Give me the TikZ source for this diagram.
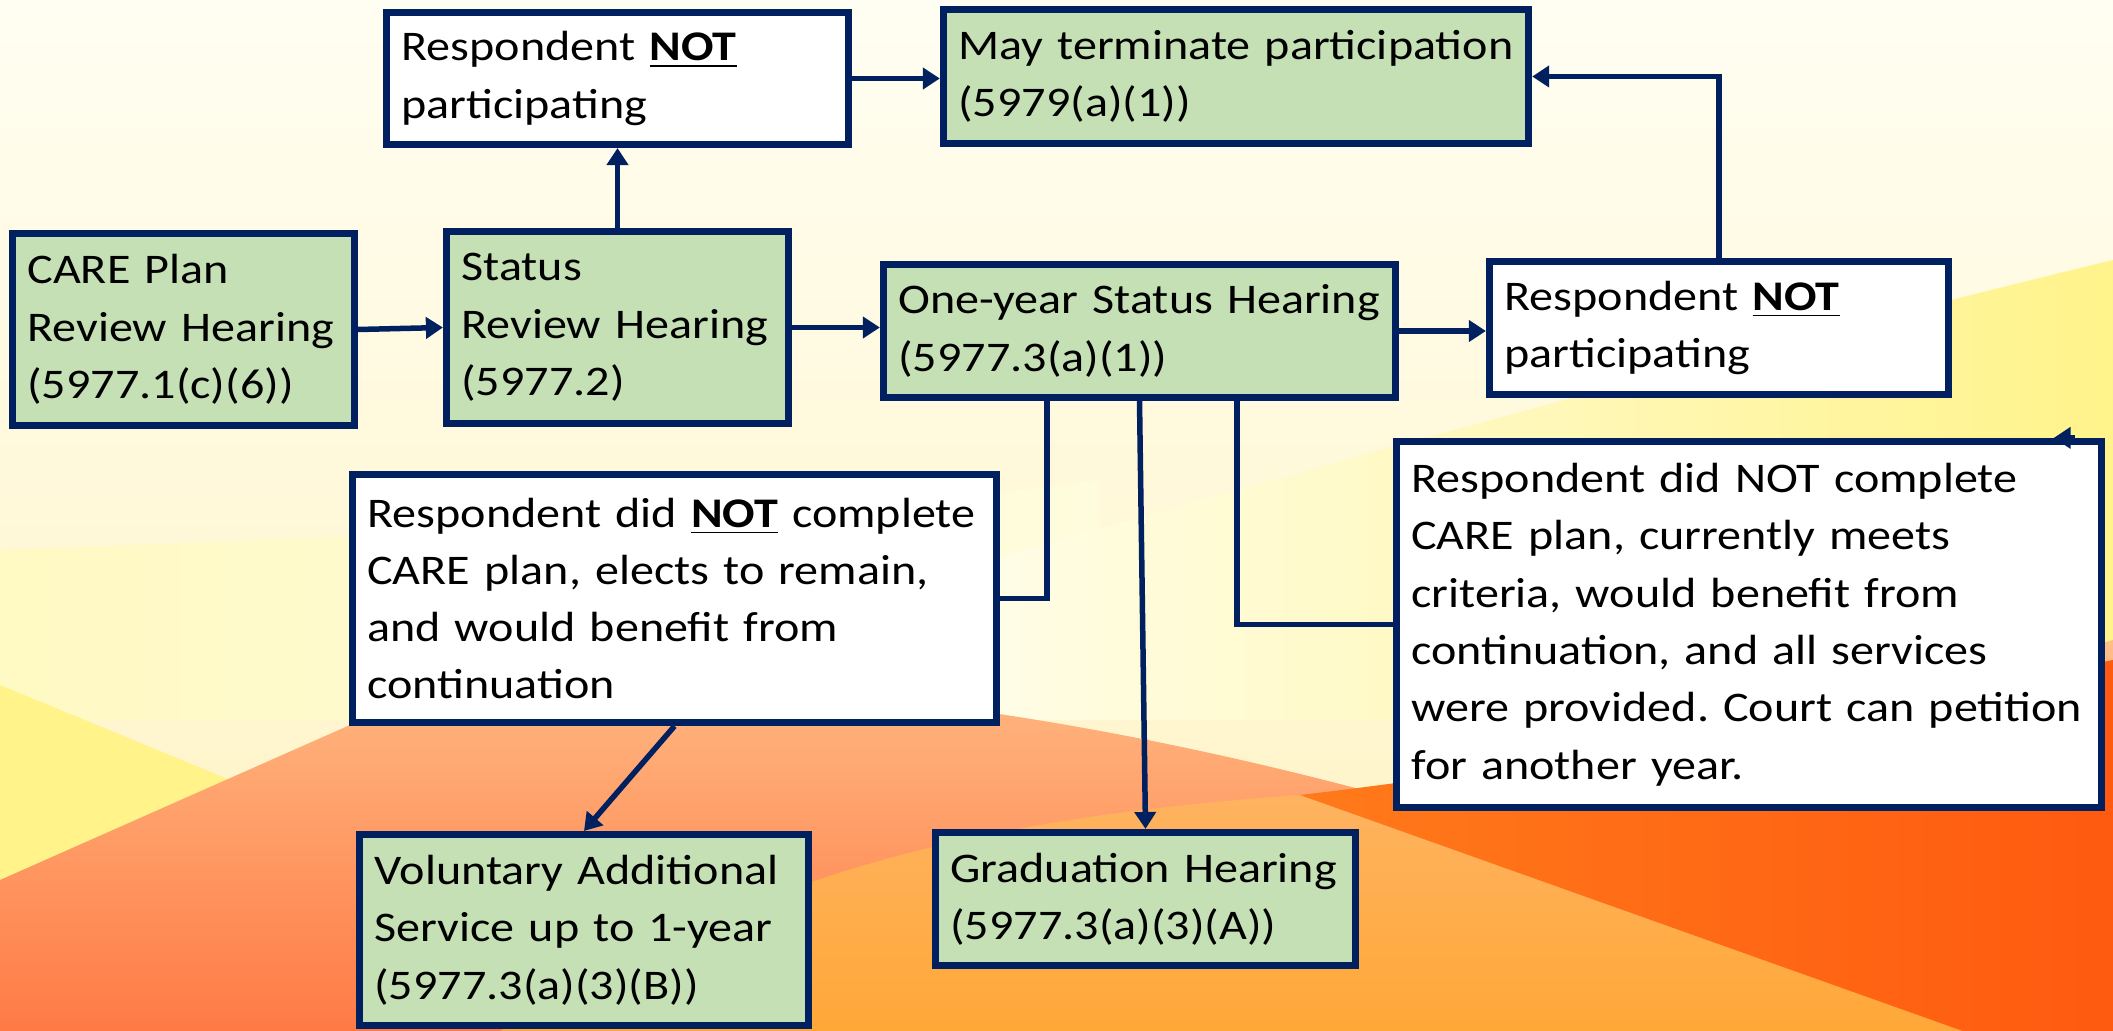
\documentclass[tikz,border=0pt]{standalone}
\usepackage{fontspec}
\setmainfont{Carlito}[FakeStretch=1.14]
\usepackage{xcolor}
\usepackage{tikz}
\usetikzlibrary{arrows.meta}

\definecolor{navy}{HTML}{002060}
\definecolor{leaf}{HTML}{C5E0B4}
\definecolor{cream}{HTML}{FFFEF2}
\definecolor{sand}{HTML}{FFF2C0}
\definecolor{lemon}{HTML}{FFF38A}
\definecolor{peach}{HTML}{FFBE88}
\definecolor{coral}{HTML}{FF7A45}
\definecolor{amber}{HTML}{FFA838}
\definecolor{tangerine}{HTML}{FF7A1A}
\definecolor{flame}{HTML}{FF5A10}

\begin{document}
\begin{tikzpicture}[
    x=0.01cm, y=-0.01cm,
    every node/.style={font=\fontsize{12pt}{16.3pt}\selectfont\frenchspacing},
    card/.style={draw=navy, line width=0.07cm, align=left, inner xsep=0.15cm, inner ysep=0pt},
    greenbox/.style={card, fill=leaf},
    whitebox/.style={card, fill=white},
    link/.style={draw=navy, line width=0.055cm},
    arr/.style={link, -{Triangle[length=0.17cm, width=0.21cm]}}
  ]
  \useasboundingbox (0,0) rectangle (2113,1031);

  % background waves
  \shade[top color=cream, bottom color=sand] (0,0) rectangle (2113,1031);
  \shade[left color=lemon!45!cream, right color=lemon!20!cream] (0,550) .. controls (400,535) and (800,520) .. (1100,480) -- (1100,720) -- (0,720) -- cycle;
  \shade[left color=cream, right color=lemon] (850,600) .. controls (1300,470) and (1700,360) .. (2113,260) -- (2113,720) -- (850,720) -- cycle;
  \fill[lemon] (0,685) -- (230,780) -- (0,880) -- cycle;
  \shade[top color=peach, bottom color=coral] (0,880) -- (350,725) .. controls (600,650) and (1000,690) .. (1400,800) .. controls (1700,780) and (1900,700) .. (2113,640) -- (2113,1031) -- (0,1031) -- cycle;
  \shade[top color=amber!50!peach, bottom color=amber] (500,1031) .. controls (750,880) and (950,820) .. (1300,795) -- (1963,1031) -- cycle;
  \shade[left color=tangerine, right color=flame] (1300,795) .. controls (1600,760) and (1900,700) .. (2113,660) -- (2113,1031) -- (1963,1031) -- cycle;

  % hearings
  \node[greenbox, text width=3.12cm, minimum height=1.92cm] (care) at (183.5,329.5) {CARE Plan\\Review Hearing\\(5977.1(c)(6))};
  \node[greenbox, text width=3.12cm, minimum height=1.92cm] (status) at (617.5,327.5) {Status\\Review Hearing\\(5977.2)};
  \node[whitebox, text width=4.32cm, minimum height=1.32cm] (notpartA) at (617.5,78.5) {Respondent \textbf{\underline{NOT}}\\participating};
  \node[greenbox, text width=5.55cm, minimum height=1.34cm] (term) at (1236,76.5) {May terminate participation\\(5979(a)(1))};
  \node[greenbox, text width=4.82cm, minimum height=1.33cm] (oneyear) at (1139.5,331) {One-year Status Hearing\\(5977.3(a)(1))};
  \node[whitebox, text width=4.29cm, minimum height=1.33cm] (notpartB) at (1719,328) {Respondent \textbf{\underline{NOT}}\\participating};
  \node[whitebox, text width=6.14cm, minimum height=2.48cm] (remain) at (674.5,598.5) {Respondent did \textbf{\underline{NOT}} complete\\CARE plan, elects to remain,\\and would benefit from\\continuation};
  \node[whitebox, text width=6.75cm, minimum height=3.66cm] (petition) at (1749,624.5) {Respondent did NOT complete\\CARE plan, currently meets\\criteria, would benefit from\\continuation, and all services\\were provided. Court can petition\\for another year.};
  \node[greenbox, text width=4.19cm, minimum height=1.91cm] (voluntary) at (584,930) {Voluntary Additional\\Service up to 1-year\\(5977.3(a)(3)(B))};
  \node[greenbox, text width=3.90cm, minimum height=1.33cm] (graduation) at (1145.5,899) {Graduation Hearing\\(5977.3(a)(3)(A))};

  % connectors
  \draw[arr] (care.east) -- (status.west);
  \draw[arr] (status.east) -- (status.east -| oneyear.west);
  \draw[arr] (status.north) -- (notpartA.south);
  \draw[arr] (notpartA.east) -- (notpartA.east -| term.west);
  \draw[arr] (oneyear.east) -- (oneyear.east -| notpartB.west);
  \draw[arr] (notpartB.north) |- (term.east);
  \draw[link] ([xshift=-0.925cm]oneyear.south) |- (remain.east);
  \draw[arr] (oneyear.south) -- (graduation.north);
  \draw[link] ([xshift=0.975cm]oneyear.south) |- (petition.west);
  \draw[arr] ([xshift=-0.30cm]petition.north east) -- ([xshift=-0.515cm]petition.north east);
  \draw[arr] (remain.south) -- (voluntary.north);
\end{tikzpicture}
\end{document}
